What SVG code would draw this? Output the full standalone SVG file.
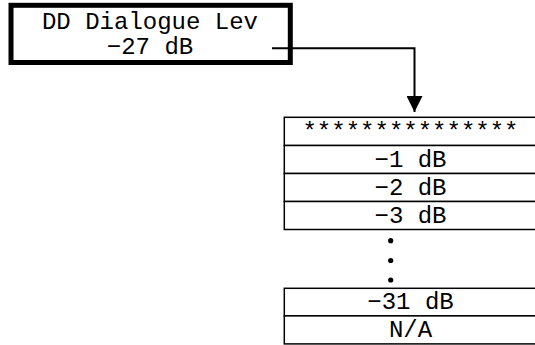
<svg xmlns="http://www.w3.org/2000/svg" width="535" height="345" viewBox="0 0 535 345">
<style>
text{font-family:"Liberation Mono","Courier New",monospace;font-size:24px;fill:#000;text-anchor:middle}
.cell{fill:#fff;stroke:#000;stroke-width:1.5}
.conn{fill:none;stroke:#000;stroke-width:2}
</style>
<defs>
<marker id="arr" markerUnits="userSpaceOnUse" markerWidth="17" markerHeight="16" refX="16" refY="8" orient="auto">
<path d="M0,0 L16,8 L0,16 Z" fill="#000"/>
</marker>
</defs>
<g id="source">
<rect x="11" y="5.3" width="279.3" height="57.2" fill="#fff" stroke="#000" stroke-width="5"/>
<text x="150" y="28.5">DD Dialogue Lev</text>
<text x="150" y="53.5">−27 dB</text>
</g>
<g id="connectors">
<path class="conn" d="M272,48.3 H414.5 V112" marker-end="url(#arr)"/>
</g>
<g id="list">
<rect class="cell" x="284.3" y="117.3" width="253" height="28.2"/>
<rect class="cell" x="284.3" y="145.5" width="253" height="28"/>
<rect class="cell" x="284.3" y="173.5" width="253" height="28"/>
<rect class="cell" x="284.3" y="201.5" width="253" height="28"/>
<text x="410.5" y="138.5">***************</text>
<text x="410.5" y="166.5">−1 dB</text>
<text x="410.5" y="194.5">−2 dB</text>
<text x="410.5" y="222.5">−3 dB</text>
<circle cx="390.7" cy="240.7" r="2.6"/>
<circle cx="390.7" cy="260.5" r="2.6"/>
<circle cx="390.7" cy="280" r="2.6"/>
<rect class="cell" x="284.3" y="288.3" width="253" height="27.6"/>
<rect class="cell" x="284.3" y="315.9" width="253" height="28"/>
<text x="410.5" y="309">−31 dB</text>
<text x="410.5" y="337">N/A</text>
</g>
</svg>
